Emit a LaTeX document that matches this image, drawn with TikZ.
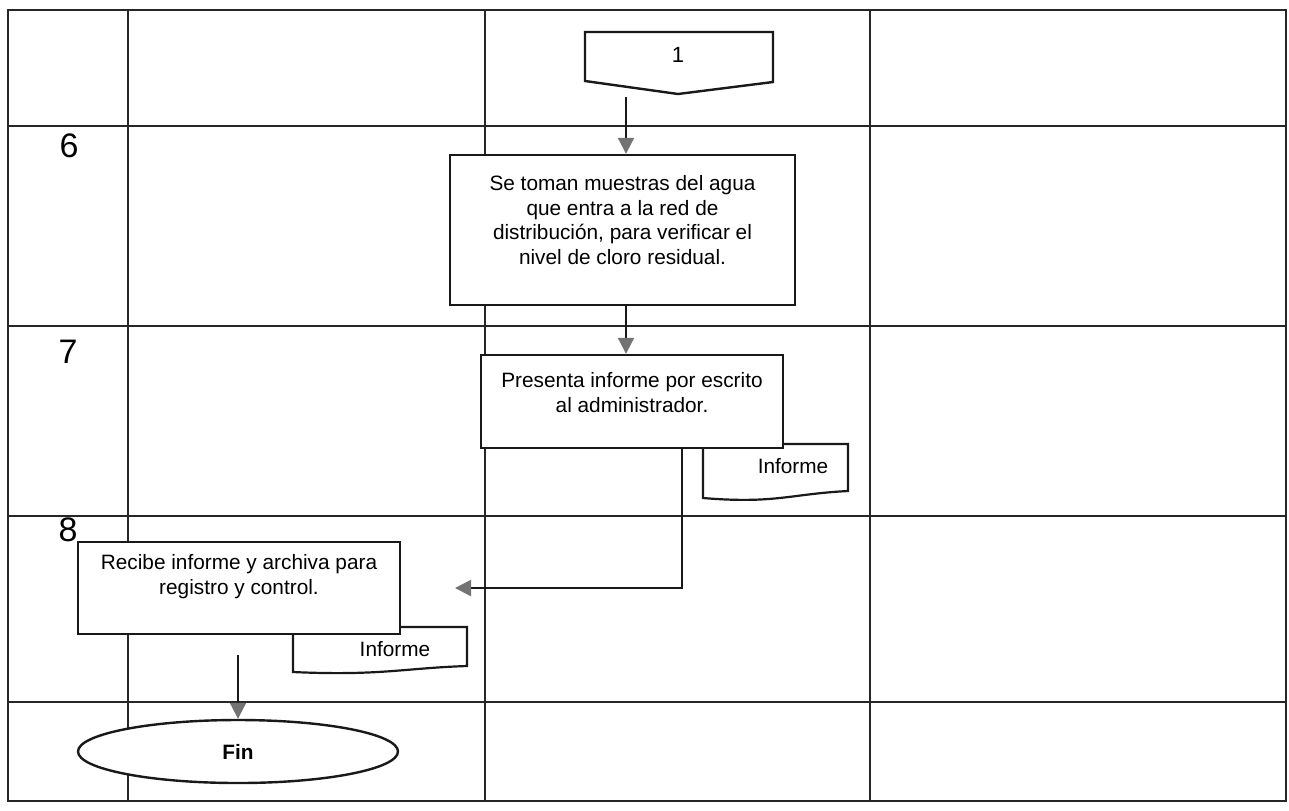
\documentclass[tikz,border=0pt]{standalone}
\usepackage{fontspec}
\setmainfont{Liberation Sans}
\usetikzlibrary{arrows.meta,shapes.geometric}

\tikzset{
  grid/.style={line width=0.75pt, draw=black!85},
  stepbox/.style={draw=black!90, line width=1.2pt, fill=white, inner sep=0pt, font=\fontsize{10.4}{12.4}\selectfont},
  docshape/.style={draw=black!90, line width=1.1pt, fill=white},
  doctext/.style={font=\fontsize{10.4}{12.4}\selectfont, inner sep=0pt},
  flow/.style={draw=black!90, line width=1pt, -{Triangle[length=8pt,width=8pt,color=black!55]}},
  rownum/.style={font=\fontsize{17}{20}\selectfont, inner sep=0pt},
  endbox/.style={ellipse, draw=black!90, line width=1.2pt, fill=white, minimum width=160pt, minimum height=31.5pt, inner sep=0pt, font=\bfseries\fontsize{10.4}{12.4}\selectfont},
}

\begin{document}
\begin{tikzpicture}[x=0.5pt,y=-0.5pt]
  \useasboundingbox (0,0) rectangle (1289,810);
  \fill[white] (0,0) rectangle (1289,810);

  % table frame, lanes and rows
  \draw[grid] (8,10) rectangle (1286,801);
  \foreach \cx in {128,485,870} \draw[grid] (\cx,10) -- (\cx,801);
  \foreach \ry in {126,326,516,702} \draw[grid] (8,\ry) -- (1286,\ry);

  % step numbers
  \node[rownum] (n6) at (69,146) {6};
  \node[rownum] (n7) at (68,352) {7};
  \node[rownum] (n8) at (68,530) {8};

  % off-page connector
  \draw[docshape, line width=1.2pt] (585,32) -- (773,32) -- (773,82) -- (678,94) -- (585,81) -- cycle;
  \node[doctext, font=\fontsize{11}{13}\selectfont] (c1) at (678,55) {1};

  % step 6
  \node[stepbox] (b1) at (622.5,230) {\parbox[c][75pt][c]{172.5pt}{\centering
    Se toman muestras del agua\\ que entra a la red de\\ distribución, para verificar el\\ nivel de cloro residual.\par\vspace{10pt}}};

  % step 7 with its document
  \draw[docshape] (703,444) -- (848,444) -- (848,491)
    .. controls (790,494) and (775,504) .. (703,498) -- cycle;
  \node[doctext] (d1) at (793,466) {Informe};
  \node[stepbox] (b2) at (632,401.5) {\parbox[c][46.5pt][c]{151pt}{\centering
    Presenta informe por escrito\\ al administrador.\par\vspace{9pt}}};

  % step 8 with its document
  \draw[docshape] (293,627) -- (467,627) -- (467,666)
    .. controls (405,668) and (380,676) .. (293,672) -- cycle;
  \node[doctext] (d2) at (395,649) {Informe};
  \node[stepbox] (b3) at (239,588) {\parbox[c][46pt][c]{161pt}{\centering
    Recibe informe y archiva para\\ registro y control.\par\vspace{11pt}}};

  % end
  \node[endbox] (fin) at (238,751.5) {Fin};

  % connectors
  \coordinate (s1) at (626,97);
  \draw[flow] (s1) -- (s1 |- b1.north);
  \draw[flow] (b1.south -| s1) -- (s1 |- b2.north);
  \coordinate (turn) at (682,588);
  \coordinate (in8) at (455,588);
  \draw[flow] (b2.south -| turn) -- (turn) -- (in8);
  \coordinate (s3) at (238,655);
  \draw[flow] (s3) -- (fin.north);
\end{tikzpicture}
\end{document}
